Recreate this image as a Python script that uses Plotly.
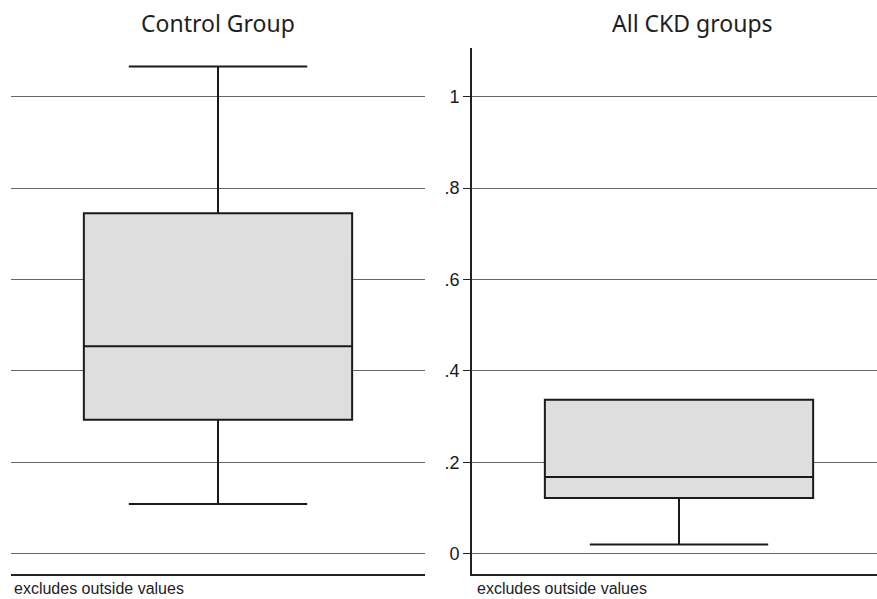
import plotly.graph_objects as go

# Summary statistics for each group (outside values excluded)
groups = ["Control Group", "All CKD groups"]
lower_adj = [0.109, 0.020]
q1 = [0.293, 0.122]
median = [0.454, 0.168]
q3 = [0.745, 0.337]
upper_adj = [1.066, 0.337]

tick_vals = [0, 0.2, 0.4, 0.6, 0.8, 1.0]
tick_text = ["0", ".2", ".4", ".6", ".8", "1"]
note = "excludes outside values"

W, H = 877, 599
fig = go.Figure()

axes = [("x", "y"), ("x2", "y2")]
for i, (xa, ya) in enumerate(axes):
    fig.add_trace(go.Box(
        x=[0], q1=[q1[i]], median=[median[i]], q3=[q3[i]],
        lowerfence=[lower_adj[i]], upperfence=[upper_adj[i]],
        width=0.648, whiskerwidth=0.665,
        fillcolor="#dedede", line=dict(color="#1a1a1a", width=2),
        boxpoints=False, showlegend=False, hoverinfo="skip",
        xaxis=xa, yaxis=ya,
    ))

y_range = [-0.0438, 1.106]
y_dom = [(H - 573.7) / H, (H - 48.3) / H]
grid_col = "#666666"

fig.update_layout(
    width=W, height=H,
    margin=dict(l=0, r=0, t=0, b=0),
    paper_bgcolor="white", plot_bgcolor="white",
    xaxis=dict(domain=[11 / W, 425 / W], range=[-0.5, 0.5],
               showgrid=False, zeroline=False, showticklabels=False, ticks="",
               showline=True, linecolor="#222222", linewidth=2),
    yaxis=dict(domain=y_dom, range=y_range, tickvals=tick_vals,
               showticklabels=False, ticks="", showline=False,
               showgrid=True, gridcolor=grid_col, gridwidth=1, zeroline=False),
    xaxis2=dict(domain=[472 / W, 1.0], range=[-0.5, -0.5 + 405 / 414],
                anchor="y2",
                showgrid=False, zeroline=False, showticklabels=False, ticks="",
                showline=True, linecolor="#222222", linewidth=2),
    yaxis2=dict(domain=y_dom, range=y_range, anchor="x2",
                tickvals=tick_vals, ticktext=tick_text,
                ticks="outside", ticklen=7, tickwidth=1, tickcolor="#222222",
                tickfont=dict(family="Liberation Sans, Arial", size=18, color="#1a1a1a"),
                showline=True, linecolor="#222222", linewidth=2,
                showgrid=True, gridcolor=grid_col, gridwidth=1, zeroline=False),
)

# Panel titles
title_font = dict(family="Noto Sans, Open Sans", size=23, color="#1e1e1e")
fig.add_annotation(text=groups[0], x=218 / W, y=1 - 23 / H, xref="paper", yref="paper",
                   xanchor="center", yanchor="middle", showarrow=False, font=title_font)
fig.add_annotation(text=groups[1], x=692 / W, y=1 - 23 / H, xref="paper", yref="paper",
                   xanchor="center", yanchor="middle", showarrow=False, font=title_font)

# Notes beneath each panel
note_font = dict(family="Liberation Sans, Arial", size=16, color="#222222")
for xpix in (12, 475):
    fig.add_annotation(text=note, x=xpix / W, y=1 - 588 / H, xref="paper", yref="paper",
                       xanchor="left", yanchor="middle", showarrow=False, font=note_font)

fig.write_html("out.html")
